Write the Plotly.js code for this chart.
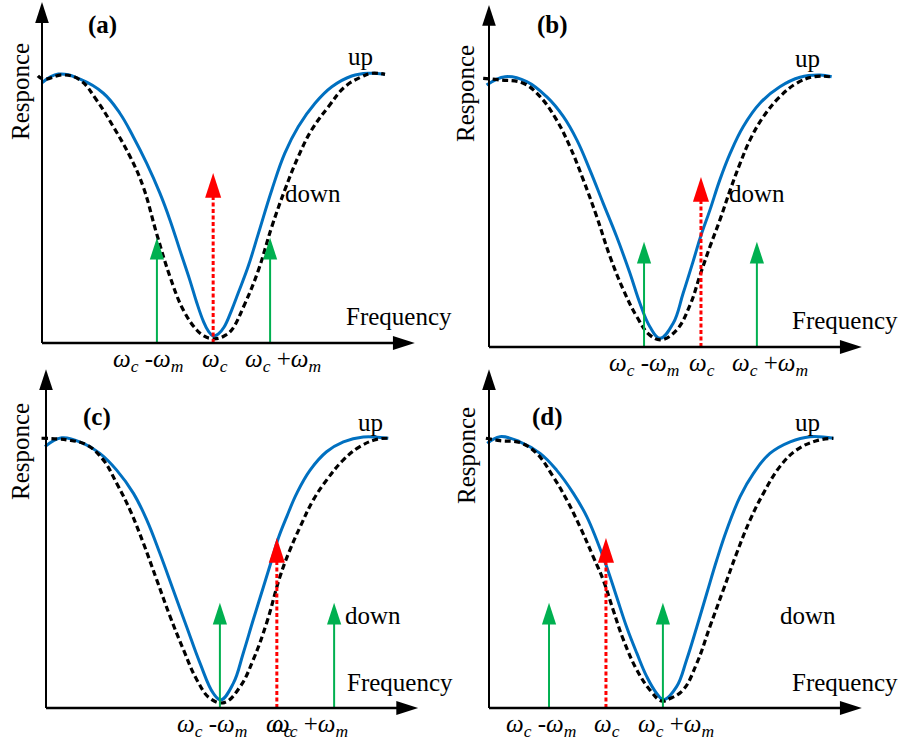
<!DOCTYPE html>
<html><head><meta charset="utf-8">
<script src="https://cdn.plot.ly/plotly-3.0.1.min.js"></script>
<style>html,body{margin:0;padding:0;background:#fff;} #chart{width:900px;height:741px;}</style>
</head><body><div id="chart"></div>
<script>
// ---------------- data ----------------
const panelLabels = ['(a)', '(b)', '(c)', '(d)'];
const curveNames = ['up', 'down'];
const axisTitles = ['Frequency', 'Responce'];

// "up" responses (solid blue), one per panel
const upFreqA = [0, 4.75, 11.1, 17.9, 22.7, 26.6, 30.5, 34.4, 37.3, 40.2, 43.1, 45.1, 47.0, 48.5, 49.9,
                 51.4, 53.1, 55.3, 57.2, 60.1, 63.1, 67.0, 70.8, 74.7, 79.6, 84.5, 90.3, 95.1, 100];
const upRespA = [0.964, 0.996, 0.977, 0.925, 0.851, 0.764, 0.666, 0.554, 0.456, 0.344, 0.233, 0.150, 0.082, 0.044, 0.026,
                 0.033, 0.059, 0.122, 0.185, 0.283, 0.406, 0.567, 0.703, 0.801, 0.888, 0.949, 0.989, 0.999, 0.995];
const upFreqB = [-0.7, 4.7, 11.0, 16.8, 21.7, 25.6, 29.4, 33.3, 37.2, 41.1, 44.0, 46.9, 49.9,
                 53.7, 56.6, 59.6, 61.7, 64.4, 67.3, 70.3, 74.1, 79.0, 84.8, 90.7, 96.5, 99.9];
const upRespB = [0.970, 1.001, 0.983, 0.927, 0.853, 0.767, 0.656, 0.532, 0.409, 0.273, 0.162, 0.075, 0.032,
                 0.088, 0.199, 0.321, 0.409, 0.507, 0.619, 0.717, 0.816, 0.903, 0.964, 0.999, 1.007, 1.001];
const upFreqC = [-0.3, 4.6, 10.9, 15.7, 20.6, 25.5, 29.4, 33.2, 37.1, 41.0, 44.9, 48.8, 51.0,
                 54.6, 57.5, 60.4, 63.4, 65.8, 67.7, 70.2, 73.1, 77.0, 81.8, 86.7, 92.5, 99.8];
const upRespC = [0.968, 1.001, 0.980, 0.943, 0.881, 0.795, 0.696, 0.573, 0.437, 0.301, 0.166, 0.054, 0.030,
                 0.091, 0.203, 0.326, 0.449, 0.548, 0.628, 0.709, 0.795, 0.881, 0.949, 0.986, 1.004, 0.999];
const upFreqD = [-0.5, 3.2, 9.0, 14.9, 19.7, 24.6, 28.5, 31.4, 34.3, 37.2, 40.1, 43.1, 46.0, 48.9, 51.0,
                 54.7, 57.6, 60.6, 63.5, 66.4, 69.3, 73.2, 77.1, 81.9, 87.8, 93.6, 100.4];
const upRespD = [0.980, 1.005, 0.986, 0.943, 0.881, 0.795, 0.709, 0.622, 0.523, 0.412, 0.301, 0.203, 0.116, 0.054, 0.031,
                 0.079, 0.178, 0.301, 0.425, 0.548, 0.659, 0.783, 0.869, 0.943, 0.986, 1.005, 0.999];

// "down" responses (dashed black), one per panel
const downFreqA = [-1.2, 0.4, 6.2, 11.1, 15.9, 20.8, 25.7, 29.5, 33.4, 37.3, 41.2, 45.1, 47.2, 49.0, 51.4,
                   53.4, 55.3, 59.2, 63.1, 67.0, 70.8, 74.7, 78.6, 83.5, 88.3, 93.2, 96.1, 100];
const downRespA = [0.989, 0.977, 0.993, 0.974, 0.900, 0.801, 0.690, 0.579, 0.406, 0.246, 0.122, 0.048, 0.026, 0.017, 0.017,
                   0.028, 0.048, 0.147, 0.270, 0.431, 0.567, 0.690, 0.789, 0.875, 0.949, 0.986, 0.999, 0.995];
const downFreqB = [-1.7, 3.2, 10.0, 14.9, 19.7, 23.6, 27.5, 31.4, 35.3, 39.2, 43.1, 46.9, 50.3,
                   54.7, 58.6, 61.5, 64.4, 67.3, 70.3, 73.2, 76.1, 80.0, 84.8, 89.7, 94.6, 99.4];
const downRespB = [0.995, 0.989, 0.977, 0.927, 0.841, 0.742, 0.619, 0.483, 0.334, 0.211, 0.112, 0.044, 0.027,
                   0.063, 0.155, 0.265, 0.371, 0.470, 0.581, 0.680, 0.767, 0.853, 0.927, 0.977, 1.001, 1.001];
const downFreqC = [-1.3, 6.0, 11.9, 16.7, 20.6, 24.5, 28.4, 32.3, 36.2, 40.1, 44.0, 47.8, 52.0,
                   56.6, 60.4, 64.3, 68.2, 71.1, 74.1, 77.9, 81.8, 86.7, 91.5, 96.4, 100.3];
const downRespC = [0.999, 0.993, 0.974, 0.919, 0.832, 0.733, 0.610, 0.474, 0.338, 0.215, 0.104, 0.036, 0.020,
                   0.079, 0.178, 0.314, 0.486, 0.585, 0.671, 0.770, 0.844, 0.919, 0.968, 0.995, 0.999];
const downFreqD = [-0.9, 3.2, 9.0, 13.9, 18.7, 22.7, 26.5, 30.4, 33.3, 36.2, 39.2, 43.1, 46.9, 50.3,
                   52.8, 56.6, 60.6, 64.4, 68.3, 72.2, 76.1, 80.0, 84.8, 89.7, 95.5, 100.4];
const downRespD = [0.999, 0.990, 0.983, 0.943, 0.857, 0.770, 0.672, 0.560, 0.474, 0.363, 0.252, 0.141, 0.067, 0.026,
                   0.035, 0.067, 0.166, 0.301, 0.437, 0.573, 0.696, 0.795, 0.894, 0.956, 0.990, 0.999];

// tones per panel
const lowerSideband = [33.5, 45.2, 50.7, 17.5];
const carrier       = [49.9, 61.8, 67.3, 34.1];
const upperSideband = [66.5, 78.1, 84.0, 50.7];
const sidebandLevel = [0.39, 0.39, 0.39, 0.39];
const carrierLevel  = [0.63, 0.63, 0.63, 0.63];

const tickLabels = [
  '<i>ω</i><sub><i>c</i></sub> -<i>ω</i><sub><i>m</i></sub>',
  '<i>ω</i><sub><i>c</i></sub>',
  '<i>ω</i><sub><i>c</i></sub> +<i>ω</i><sub><i>m</i></sub>'
];

const upFreq = [upFreqA, upFreqB, upFreqC, upFreqD];
const upResp = [upRespA, upRespB, upRespC, upRespD];
const downFreq = [downFreqA, downFreqB, downFreqC, downFreqD];
const downResp = [downRespA, downRespB, downRespC, downRespD];

// ---------------- layout geometry ----------------
const W = 900, H = 741;
const SX = 3.43, SY = 270;           // px per unit
const FONT = 'Liberation Serif, Times New Roman, serif';
const BLUE = '#0070C0', GREEN = '#00B050', RED = '#FF0000';
const FS = 25;

const geo = [
  {box: [0, 450, 0, 372],   origin: [42, 343],  xTip: 108.7, yTip: 1.263,
   lab: [102, 25], up: [360, 57], down: [313, 193], freq: [399, 317], resp: [20, 92],
   tickShift: [-9, 2, 13]},
  {box: [450, 900, 0, 372], origin: [489, 347], xTip: 108.7, yTip: 1.267,
   lab: [552, 25], up: [807, 59], down: [757, 193], freq: [845, 320], resp: [466, 94],
   tickShift: [0, 1, 13]},
  {box: [0, 450, 362, 741], origin: [46, 708],  xTip: 108.5, yTip: 1.255,
   lab: [97, 417], up: [370, 422], down: [373, 615], freq: [400, 682], resp: [20, 452],
   tickShift: [-8, 2, -24]},
  {box: [450, 900, 362, 741], origin: [489, 708], xTip: 108.7, yTip: 1.255,
   lab: [547, 417], up: [807, 422], down: [808, 615], freq: [845, 682], resp: [466, 456],
   tickShift: [-8, 1, 13]}
];

const traces = [];
const annotations = [];
const layout = {
  width: W, height: H, margin: {l: 0, r: 0, t: 0, b: 0},
  paper_bgcolor: '#fff', plot_bgcolor: 'rgba(0,0,0,0)', showlegend: false,
  annotations: annotations
};

function arrowTrace(xa, ya, xs, ys, color, width, dash, size) {
  return {x: xs, y: ys, xaxis: xa, yaxis: ya, type: 'scatter', mode: 'lines+markers',
    line: {color: color, width: width, dash: dash},
    marker: {symbol: 'arrow', angleref: 'previous', size: [0, size], color: color, opacity: 1, line: {width: 0}},
    hoverinfo: 'skip', cliponaxis: false};
}

function paperAnn(p, text, opts) {
  return Object.assign({xref: 'paper', yref: 'paper', x: p[0] / W, y: 1 - p[1] / H,
    text: text, showarrow: false, xanchor: 'center', yanchor: 'middle',
    font: {family: FONT, size: FS, color: '#000'}}, opts || {});
}

geo.forEach((g, i) => {
  const n = i === 0 ? '' : String(i + 1);
  const xa = 'x' + n, ya = 'y' + n;
  const [L, R, T, B] = g.box;
  const [ox, oy] = g.origin;
  layout['xaxis' + n] = {domain: [L / W, R / W], range: [(L - ox) / SX, (R - ox) / SX],
    visible: false, fixedrange: true, anchor: ya};
  layout['yaxis' + n] = {domain: [1 - B / H, 1 - T / H], range: [(oy - B) / SY, (oy - T) / SY],
    visible: false, fixedrange: true, anchor: xa};

  // curves
  traces.push({x: upFreq[i], y: upResp[i], xaxis: xa, yaxis: ya, type: 'scatter', mode: 'lines',
    name: curveNames[0], line: {color: BLUE, width: 3, shape: 'spline', smoothing: 1.15}, hoverinfo: 'skip'});
  traces.push({x: downFreq[i], y: downResp[i], xaxis: xa, yaxis: ya, type: 'scatter', mode: 'lines',
    name: curveNames[1], line: {color: '#000', width: 3.2, dash: '6px,3.5px', shape: 'spline', smoothing: 1.15}, hoverinfo: 'skip'});

  // tones
  traces.push(arrowTrace(xa, ya, [lowerSideband[i], lowerSideband[i]], [0, sidebandLevel[i]], GREEN, 2, 'solid', 23));
  traces.push(arrowTrace(xa, ya, [upperSideband[i], upperSideband[i]], [0, sidebandLevel[i]], GREEN, 2, 'solid', 23));
  traces.push(arrowTrace(xa, ya, [carrier[i], carrier[i]], [0, carrierLevel[i]], RED, 3, '4px,2.5px', 26));

  // axes with arrow heads
  traces.push(arrowTrace(xa, ya, [0, g.xTip], [0, 0], '#000', 2.5, 'solid', 23));
  traces.push(arrowTrace(xa, ya, [0, 0], [0, g.yTip], '#000', 2, 'solid', 22));

  // tick labels under the tones
  const tones = [lowerSideband[i], carrier[i], upperSideband[i]];
  tones.forEach((v, k) => {
    annotations.push({xref: xa, yref: ya, x: v, y: 0, text: tickLabels[k], showarrow: false,
      xanchor: 'center', yanchor: 'middle', xshift: g.tickShift[k], yshift: -17,
      font: {family: FONT, size: FS, color: '#000'}});
  });

  annotations.push(paperAnn(g.lab, '<b>' + panelLabels[i] + '</b>'));
  annotations.push(paperAnn(g.up, curveNames[0]));
  annotations.push(paperAnn(g.down, curveNames[1]));
  annotations.push(paperAnn(g.freq, axisTitles[0]));
  annotations.push(paperAnn(g.resp, axisTitles[1], {textangle: -90}));
});

Plotly.newPlot('chart', traces, layout, {staticPlot: true, displayModeBar: false});
</script>
</body></html>
